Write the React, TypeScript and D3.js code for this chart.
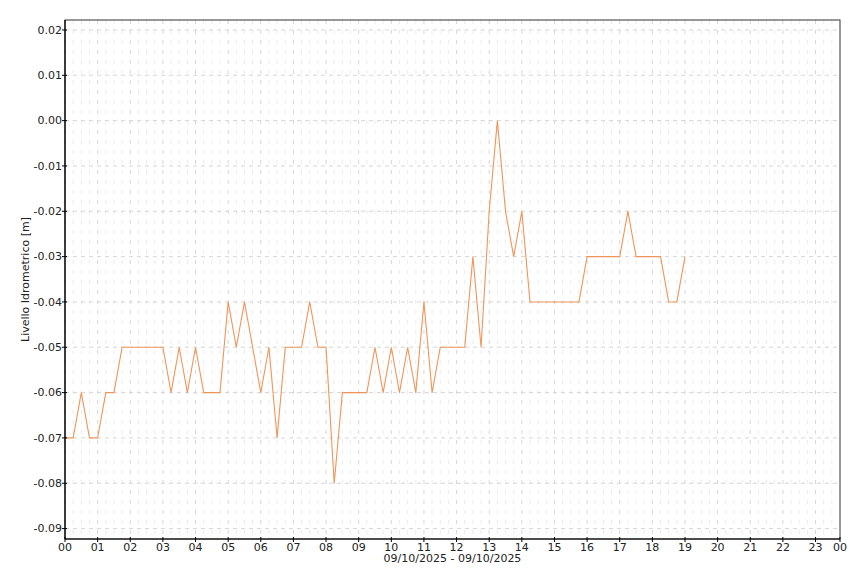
import React from "react";
import * as d3 from "d3";

// 15-minute readings, 09/10/2025 from 00:00 to 19:00
const times: string[] = [
  "00:00","00:15","00:30","00:45","01:00","01:15","01:30","01:45",
  "02:00","02:15","02:30","02:45","03:00","03:15","03:30","03:45",
  "04:00","04:15","04:30","04:45","05:00","05:15","05:30","05:45",
  "06:00","06:15","06:30","06:45","07:00","07:15","07:30","07:45",
  "08:00","08:15","08:30","08:45","09:00","09:15","09:30","09:45",
  "10:00","10:15","10:30","10:45","11:00","11:15","11:30","11:45",
  "12:00","12:15","12:30","12:45","13:00","13:15","13:30","13:45",
  "14:00","14:15","14:30","14:45","15:00","15:15","15:30","15:45",
  "16:00","16:15","16:30","16:45","17:00","17:15","17:30","17:45",
  "18:00","18:15","18:30","18:45","19:00",
];

const levels: number[] = [
  -0.07,-0.07,-0.06,-0.07,-0.07,-0.06,-0.06,-0.05,
  -0.05,-0.05,-0.05,-0.05,-0.05,-0.06,-0.05,-0.06,
  -0.05,-0.06,-0.06,-0.06,-0.04,-0.05,-0.04,-0.05,
  -0.06,-0.05,-0.07,-0.05,-0.05,-0.05,-0.04,-0.05,
  -0.05,-0.08,-0.06,-0.06,-0.06,-0.06,-0.05,-0.06,
  -0.05,-0.06,-0.05,-0.06,-0.04,-0.06,-0.05,-0.05,
  -0.05,-0.05,-0.03,-0.05,-0.02,0.00,-0.02,-0.03,
  -0.02,-0.04,-0.04,-0.04,-0.04,-0.04,-0.04,-0.04,
  -0.03,-0.03,-0.03,-0.03,-0.03,-0.02,-0.03,-0.03,
  -0.03,-0.03,-0.04,-0.04,-0.03,
];

const yTicks: number[] = [0.02, 0.01, 0.0, -0.01, -0.02, -0.03, -0.04, -0.05, -0.06, -0.07, -0.08, -0.09];
const xTickLabels: string[] = [
  "00","01","02","03","04","05","06","07","08","09","10","11",
  "12","13","14","15","16","17","18","19","20","21","22","23","00",
];
const dateLabel = "09/10/2025 - 09/10/2025";
const yTitle = "Livello Idrometrico [m]";
const day = "2025-10-09";
const domainStart = "00:00";
const domainEnd = "23:45";

const parse = (t: string) => new Date(`${day}T${t}:00`);

export default function App() {
  const W = 860, H = 573;
  const L = 65, R = 840, T = 20, B = 539;
  const x = d3.scaleTime().domain([parse(domainStart), parse(domainEnd)]).range([L, R]);
  const y = d3.scaleLinear().domain([-0.0923, 0.0222]).range([B, T]);

  const data = times.map((t, i) => ({ t: parse(t), v: levels[i] }));
  const line = d3.line<{ t: Date; v: number }>().x(d => x(d.t)).y(d => y(d.v));

  const hourTicks = d3.timeHour.range(parse(domainStart), new Date(parse(domainEnd).getTime() + 1));
  const quarterTicks = d3.timeMinute.every(15)!.range(parse(domainStart), parse(domainEnd))
    .filter(d => d.getMinutes() !== 0);

  const font = "'DejaVu Sans', Verdana, sans-serif";

  return (
    <svg width={W} height={H} style={{ position: "absolute", left: 0, top: 0, background: "#fff" }}>
      <rect x={0} y={0} width={W} height={H} fill="#fff" />
      {/* minor vertical grid */}
      {quarterTicks.map((d, i) => (
        <line key={"mv" + i} x1={x(d)} x2={x(d)} y1={T} y2={B} stroke="#ebebeb" strokeWidth={1} strokeDasharray="4,6" />
      ))}
      {/* major vertical grid */}
      {hourTicks.map((d, i) => (
        <line key={"v" + i} x1={x(d)} x2={x(d)} y1={T} y2={B} stroke="#d6d6d6" strokeWidth={1} strokeDasharray="4,6" />
      ))}
      {/* horizontal grid */}
      {yTicks.map((v, i) => (
        <line key={"h" + i} x1={L} x2={R} y1={y(v)} y2={y(v)} stroke="#d6d6d6" strokeWidth={1} strokeDasharray="4,4" />
      ))}
      {/* data line */}
      <path d={line(data) ?? ""} fill="none" stroke="#f0955a" strokeWidth={1.1} />
      {/* frame */}
      <rect x={L} y={T} width={R - L} height={B - T} fill="none" stroke="#333" strokeWidth={1} />
      <line x1={L} x2={L} y1={T} y2={B} stroke="#000" strokeWidth={1.2} />
      <line x1={L} x2={R} y1={B} y2={B} stroke="#000" strokeWidth={1.2} />
      {/* y ticks */}
      {yTicks.map((v, i) => (
        <g key={"yt" + i}>
          <line x1={L - 3} x2={L + 2} y1={y(v)} y2={y(v)} stroke="#000" />
          <text x={L - 3} y={y(v)} dy="0.35em" textAnchor="end" fontFamily={font} fontSize={11} fill="#222">
            {v.toFixed(2)}
          </text>
        </g>
      ))}
      {/* x ticks */}
      {xTickLabels.map((lab, i) => {
        const px = i < hourTicks.length ? x(hourTicks[i]) : R;
        return (
          <g key={"xt" + i}>
            <line x1={px} x2={px} y1={B - 2} y2={B + 3} stroke="#000" />
            <text x={px} y={551} textAnchor="middle" fontFamily={font} fontSize={11} fill="#222">{lab}</text>
          </g>
        );
      })}
      <text x={(L + R) / 2} y={561.5} textAnchor="middle" fontFamily={font} fontSize={11} fill="#222">{dateLabel}</text>
      <text transform={`translate(29,${(T + B) / 2}) rotate(-90)`} textAnchor="middle" fontFamily={font} fontSize={11} fill="#222">
        {yTitle}
      </text>
    </svg>
  );
}
